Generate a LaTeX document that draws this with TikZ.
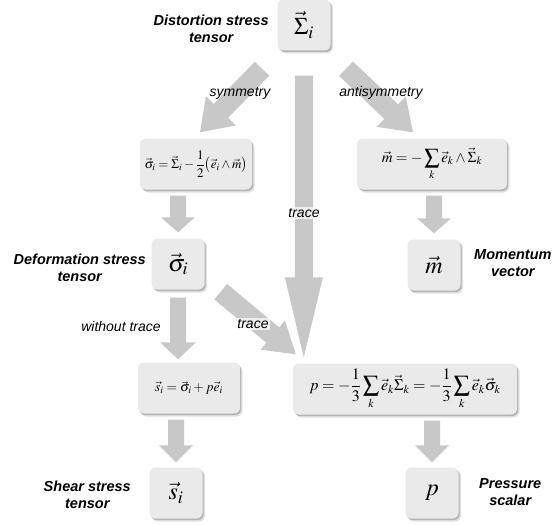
\documentclass[tikz,border=0pt]{standalone}
\usepackage{amsmath}
\usepackage{mathptmx}
\usepackage{fontspec}
\setmainfont{Liberation Serif}
\setsansfont{Liberation Sans}
\usetikzlibrary{calc,shadows}
\definecolor{boxgray}{RGB}{234,234,234}
\definecolor{agray}{RGB}{200,200,200}
\pgfdeclarelayer{back}
\pgfdeclarelayer{bg}
\pgfsetlayers{back,bg,main}
% block arrow: from, to, shaft half width, head half width, head length
\newcommand{\blockarr}[5]{%
  \coordinate (ba-h) at ($(#2)!#5!(#1)$);
  \fill[agray] ($(#1)!#3!90:(#2)$) -- ($(ba-h)!#3!90:(#2)$) -- ($(ba-h)!#4!90:(#2)$) -- (#2)
     -- ($(ba-h)!#4!-90:(#2)$) -- ($(ba-h)!#3!-90:(#2)$) -- ($(#1)!#3!-90:(#2)$) -- cycle;}
\begin{document}
\begin{tikzpicture}[x=1pt,y=-1pt,
  box/.style={fill=boxgray, rounded corners=6pt, inner sep=0pt,
    drop shadow={shadow xshift=1.2pt,shadow yshift=-1.5pt,opacity=0.20,fill=black},
    drop shadow={shadow xshift=2.5pt,shadow yshift=-3pt,opacity=0.12,fill=black}},
  sym/.style={box, minimum width=53pt, minimum height=51pt, font=\fontsize{24}{26}\selectfont},
  eq/.style={box, minimum height=51pt, font=\fontsize{12.5}{14}\selectfont},
  lbl/.style={font=\sffamily\bfseries\itshape\fontsize{14.5}{17}\selectfont, align=center, inner sep=0pt},
  albl/.style={font=\sffamily\itshape\fontsize{14}{16}\selectfont, inner sep=1.5pt},
  halo/.style={fill=white, fill opacity=0.7, text opacity=1}]
\useasboundingbox (0,0) rectangle (553,524);
\begin{pgfonlayer}{back}
\fill[white] (0,0) rectangle (553,524);
\end{pgfonlayer}

% boxes
\node[sym] (Sig) at (304,25) {$\vec{\Sigma}_i$};
\node[eq, minimum width=112pt, font=\fontsize{13}{15}\selectfont] (sigeq) at (196,164)
  {$\displaystyle\vec{\sigma}_i=\vec{\Sigma}_i-\frac{1}{2}\bigl(\vec{e}_i\wedge\vec{m}\bigr)$};
\node[eq, minimum width=150pt, font=\fontsize{15}{17}\selectfont] (meq) at (432,164)
  {$\displaystyle\vec{m}=-\sum_k\vec{e}_k\wedge\vec{\Sigma}_k$};
\node[sym] (sigi) at (178,264) {$\vec{\sigma}_i$};
\node[sym] (mbox) at (434,265) {$\vec{m}$};
\node[eq, minimum width=102pt, font=\fontsize{13.5}{15}\selectfont] (seq) at (189,388) {$\vec{s}_i=\vec{\sigma}_i+p\vec{e}_i$};
\node[eq, minimum width=224pt, font=\fontsize{16}{18}\selectfont] (peq) at (405,389)
  {$\displaystyle p=-\frac{1}{3}\sum_k\vec{e}_k\vec{\Sigma}_k=-\frac{1}{3}\sum_k\vec{e}_k\vec{\sigma}_k$};
\node[sym] (sbox) at (176,493) {$\vec{s}_i$};
\node[sym] (pbox) at (432,493) {$p$};

% side labels
\node[lbl, anchor=east] (lDist) at (269,29) {Distortion stress\\tensor};
\node[lbl, anchor=east] (lDef) at (146,268) {Deformation stress\\tensor};
\node[lbl, anchor=west] (lMom) at (474,263) {Momentum\\vector};
\node[lbl, anchor=east] (lShear) at (131,495) {Shear stress\\tensor};
\node[lbl, anchor=west] (lPress) at (479,492) {Pressure\\scalar};

% arrow end points
\coordinate (a1s) at ($(Sig.south)+(-42,18)$);
\coordinate (a1e) at ($(sigeq.north)+(4,-6)$);
\coordinate (a2s) at ($(Sig.south)+(42,18)$);
\coordinate (a2e) at ($(meq.north)+(-19,-6)$);
\coordinate (a3s) at ($(Sig.south)+(0,25)$);
\coordinate (a3e) at ($(peq.north west)+(11,-6)$);
\coordinate (a4s) at ($(sigeq.south -| sigi)+(0,6)$);
\coordinate (a4e) at ($(sigi.north)+(0,-6)$);
\coordinate (a5s) at ($(meq.south -| mbox)+(0,6)$);
\coordinate (a5e) at ($(mbox.north)+(0,-6)$);
\coordinate (a6s) at ($(sigi.south)+(0,8)$);
\coordinate (a6e) at ($(seq.north -| sigi)+(0,-3)$);
\coordinate (a7s) at ($(sigi.south east)+(16,2)$);
\coordinate (a7e) at ($(peq.north west)+(3,-9)$);
\coordinate (a8s) at ($(seq.south -| sbox)+(0,6)$);
\coordinate (a8e) at ($(sbox.north)+(0,-5)$);
\coordinate (a9s) at ($(peq.south -| pbox)+(0,6)$);
\coordinate (a9e) at ($(pbox.north)+(0,-5)$);

\begin{pgfonlayer}{bg}
\blockarr{a1s}{a1e}{10pt}{21pt}{30pt}
\blockarr{a2s}{a2e}{10pt}{21pt}{30pt}
\blockarr{a3s}{a3e}{9pt}{19pt}{80pt}
\blockarr{a4s}{a4e}{8pt}{17pt}{15pt}
\blockarr{a5s}{a5e}{8pt}{17pt}{15pt}
\blockarr{a6s}{a6e}{8pt}{18pt}{17pt}
\blockarr{a7s}{a7e}{10pt}{19pt}{30pt}
\blockarr{a8s}{a8e}{8pt}{17pt}{17pt}
\blockarr{a9s}{a9e}{8pt}{17pt}{17pt}
\end{pgfonlayer}

% connector labels
\node[albl] (tSym) at (240,93) {symmetry};
\node[albl] (tAnti) at (381,93) {antisymmetry};
\node[albl, halo] (tTr) at (304,213) {trace};
\node[albl] (tWo) at (121,326) {without trace};
\node[albl, halo] (tTr2) at (253,324) {trace};
\end{tikzpicture}
\end{document}
